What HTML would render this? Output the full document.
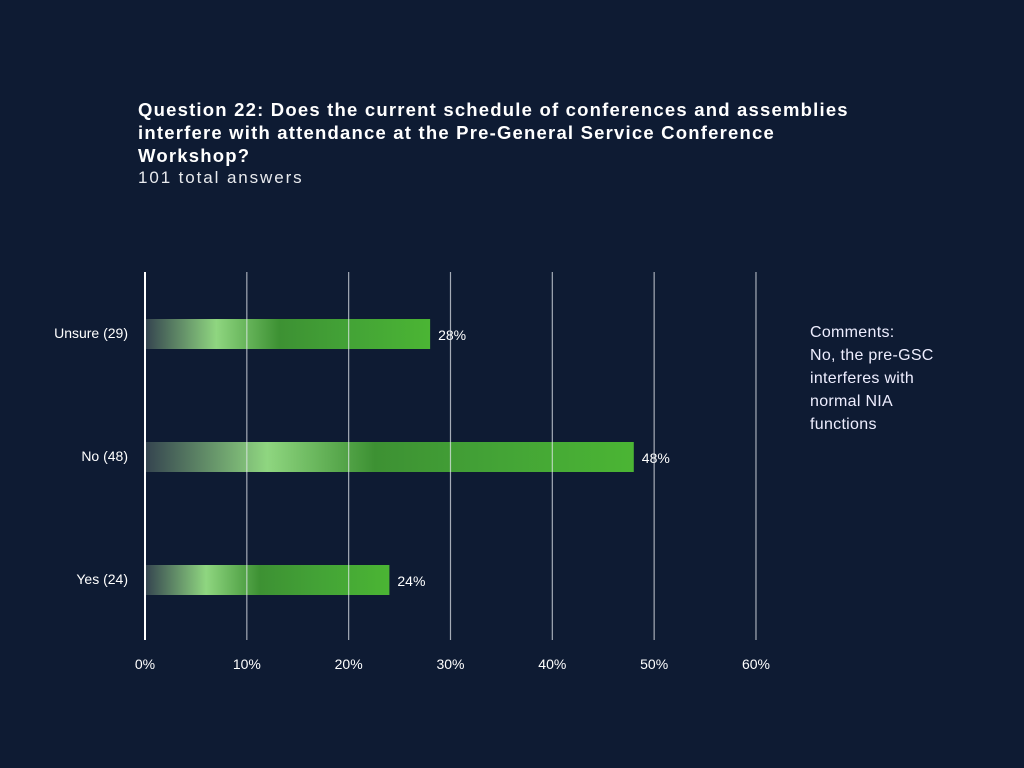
<!DOCTYPE html>
<html><head><meta charset="utf-8"><style>
body{margin:0;background:#0e1b33;width:1024px;height:768px;overflow:hidden;font-family:"Liberation Sans",sans-serif;color:#fff}
#title{position:absolute;left:138px;top:98px;font-size:18.5px;font-weight:bold;line-height:23px;letter-spacing:1.2px}
#sub{position:absolute;left:138px;top:168px;font-size:17px;letter-spacing:1.9px;color:#e8eaee}
#comments{position:absolute;left:810px;top:321px;font-size:16px;line-height:23px;color:#eef;letter-spacing:0.3px}
svg{position:absolute;left:0;top:0}
</style></head><body>
<div id="title">Question 22: Does the current schedule of conferences and assemblies<br>interfere with attendance at the Pre-General Service Conference<br>Workshop?</div>
<div id="sub">101 total answers</div>
<div id="comments">Comments:<br>No, the pre-GSC<br>interferes with<br>normal NIA<br>functions</div>
<svg id="chart" width="1024" height="768">
<defs><linearGradient id="g" x1="0" x2="1" y1="0" y2="0">
<stop offset="0" stop-color="#34434f"/><stop offset="0.25" stop-color="#8fd680"/><stop offset="0.47" stop-color="#3d9133"/><stop offset="0.7" stop-color="#43a236"/><stop offset="1" stop-color="#4bb534"/>
</linearGradient></defs>
</svg>
<script>
const categories=["Unsure (29)","No (48)","Yes (24)"];
const values=[28,48,24];
const ticks=[0,10,20,30,40,50,60];
const svg=document.getElementById('chart');
const NS='http://www.w3.org/2000/svg';
const x=v=>145+v*10.183;
const yc=i=>334+i*123;
function mk(t,a){const e=document.createElementNS(NS,t);for(const k in a)e.setAttribute(k,a[k]);svg.appendChild(e);return e;}
values.forEach((v,i)=>{
  const r=mk('rect',{x:x(0),y:yc(i)-15,width:x(v)-x(0),height:30,fill:'url(#g)'});
  
  
  const l=mk('text',{x:x(v)+8,y:yc(i)+6,fill:'#fff','font-size':14});
  l.textContent=v+'%';
  
  
  const c=mk('text',{x:128,y:yc(i)+4,fill:'#fff','font-size':14,'text-anchor':'end'});
  c.textContent=categories[i];
  
  
});
ticks.forEach((t,i)=>{
  const g=mk('line',{x1:x(t),x2:x(t),y1:272,y2:640,stroke:i==0?'#fff':'rgba(230,234,240,0.7)','stroke-width':i==0?2:1.2});
  
  
  const l=mk('text',{x:x(t),y:669,fill:'#fff','font-size':14,'text-anchor':'middle'});
  l.textContent=t+'%';
  
  
});
</script>
</body></html>
